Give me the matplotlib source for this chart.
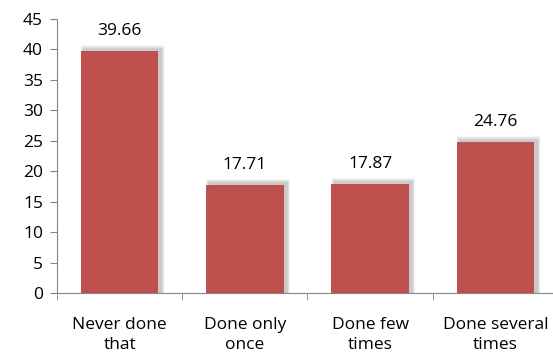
import matplotlib

matplotlib.use('Agg')
import matplotlib.pyplot as plt  # noqa: E402
import numpy as np  # noqa: E402

categories = ["Never done\nthat", "Done only\nonce", "Done few\ntimes", "Done several\ntimes"]
values = [39.66, 17.71, 17.87, 24.76]
yticks = [0, 5, 10, 15, 20, 25, 30, 35, 40, 45]

BAR_COLOR = '#C0504D'
AXIS_COLOR = '#868686'

plt.rcParams['font.family'] = ['Open Sans', 'DejaVu Sans']

fig = plt.figure(figsize=(5.53, 3.56), dpi=100)
ax = fig.add_axes([0.103, 0.177, 0.906, 0.770])

x = np.arange(len(categories))
width = 0.62

# soft drop shadow: stacked translucent bars growing outwards
for k in range(1, 8):
    grow = 0.007 * k
    ax.bar(x + 0.025, np.array(values) + 0.3 + 0.1 * k, width=width + grow,
           color='#000000', alpha=0.03, linewidth=0, zorder=1)
ax.bar(x, values, width=width, color=BAR_COLOR, linewidth=0, zorder=2)

for xi, v in zip(x, values):
    ax.annotate(f'{v:.2f}', (xi, v), xytext=(0, 9), textcoords='offset points',
                ha='center', va='bottom', fontsize=12.5)

ax.set_xlim(-0.5, 3.5)
ax.set_ylim(0, 45)
ax.set_yticks(yticks)
ax.set_xticks(x)
ax.set_xticklabels(categories, fontsize=12.5, linespacing=1.4)
ax.set_xticks(np.arange(-0.5, 4, 1), minor=True)
ax.tick_params(axis='x', which='major', length=0, pad=17)
ax.tick_params(axis='x', which='minor', length=5, color=AXIS_COLOR, direction='out')
ax.tick_params(axis='y', length=5, color=AXIS_COLOR, direction='out', labelsize=12.5, pad=5)

for side in ('top', 'right'):
    ax.spines[side].set_visible(False)
for side in ('left', 'bottom'):
    ax.spines[side].set_color(AXIS_COLOR)

fig.savefig('out.png', dpi=100)
plt.close(fig)
